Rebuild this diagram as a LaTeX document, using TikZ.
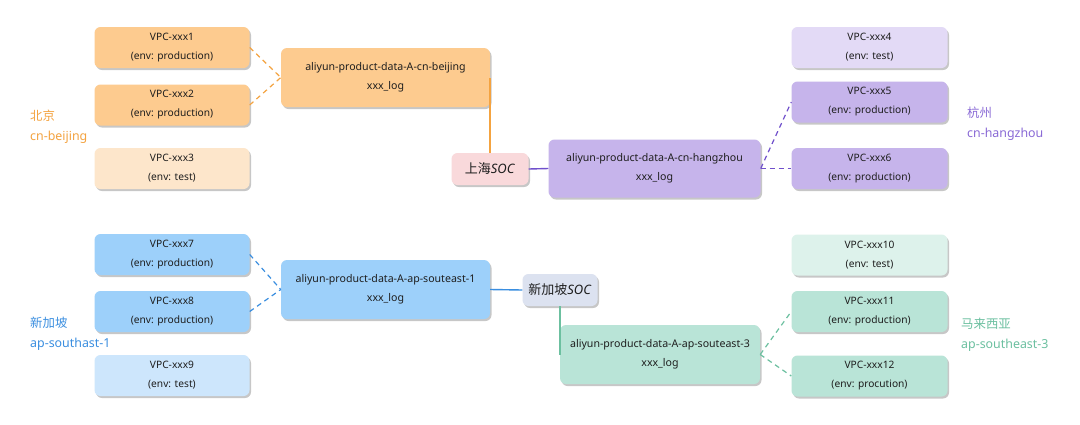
\documentclass[tikz,border=0pt]{standalone}
\usepackage{fontspec}
\setmainfont{Noto Sans}
\newfontfamily\cjk{Noto Sans CJK SC}
\usetikzlibrary{shadows}
\definecolor{orM}{HTML}{FDCB8F}
\definecolor{orL}{HTML}{FDE6CB}
\definecolor{orD}{HTML}{F4A340}
\definecolor{puM}{HTML}{C6B4EB}
\definecolor{puL}{HTML}{E3DAF6}
\definecolor{puD}{HTML}{7050CC}
\definecolor{puT}{HTML}{8A6AD6}
\definecolor{blM}{HTML}{9DD0FA}
\definecolor{blL}{HTML}{CDE6FC}
\definecolor{blD}{HTML}{3A8EE0}
\definecolor{grM}{HTML}{B9E4D7}
\definecolor{grL}{HTML}{DDF2EB}
\definecolor{grD}{HTML}{6CC0A0}
\definecolor{pkS}{HTML}{F9D9DB}
\definecolor{bgS}{HTML}{DCE2F0}
\definecolor{txt}{HTML}{1E1E1E}
\tikzset{
  box/.style={rounded corners=6pt, draw=none, align=center, text=txt,
    font=\fontsize{10.2}{19}\selectfont, inner sep=0pt,
    drop shadow={shadow xshift=1.5pt, shadow yshift=-2pt, opacity=0.22, fill=black}},
  vpc/.style={box, minimum width=155pt, minimum height=41pt},
  mainbox/.style={box, font=\fontsize{10.6}{19}\selectfont, minimum width=209pt, minimum height=59pt},
  soc/.style={box, font=\fontsize{13}{15}\selectfont, minimum height=32pt},
  dconn/.style={line width=1.2pt, dash pattern=on 5pt off 4pt},
  sconn/.style={line width=1.4pt},
  region/.style={align=left, anchor=west, font=\fontsize{12.4}{20}\selectfont, inner sep=0pt}
}
\begin{document}
\begin{tikzpicture}[x=1pt,y=-1pt]
\useasboundingbox[fill=white] (0,0) rectangle (1080,424);
% Beijing
\node[vpc, fill=orM] (v1) at (172,47.5) {VPC-xxx1\\(env: production)};
\node[vpc, fill=orM] (v2) at (172,105) {VPC-xxx2\\(env: production)};
\node[vpc, fill=orL] (v3) at (172,168.5) {VPC-xxx3\\(env: test)};
\node[mainbox, fill=orM] (bj) at (385.5,77.5) {aliyun-product-data-A-cn-beijing\\xxx\_log};
\node[region, text=orD] (lbj) at (30,127) {{\cjk 北京}\\cn-beijing};
% Shanghai SOC
\node[soc, fill=pkS, minimum width=77pt] (sh) at (490,169) {{\cjk 上海}\textit{SOC}};
% Hangzhou
\node[mainbox, fill=puM, minimum width=212pt, minimum height=58pt] (hz) at (654.5,168.5) {aliyun-product-data-A-cn-hangzhou\\xxx\_log};
\node[vpc, fill=puL, minimum width=156pt] (v4) at (869.5,47.5) {VPC-xxx4\\(env: test)};
\node[vpc, fill=puM, minimum width=156pt] (v5) at (869.5,102) {VPC-xxx5\\(env: production)};
\node[vpc, fill=puM, minimum width=156pt] (v6) at (869.5,168.5) {VPC-xxx6\\(env: production)};
\node[region, text=puT] (lhz) at (967,123.5) {{\cjk 杭州}\\cn-hangzhou};
% Singapore
\node[vpc, fill=blM] (v7) at (172,254.5) {VPC-xxx7\\(env: production)};
\node[vpc, fill=blM] (v8) at (172,311.5) {VPC-xxx8\\(env: production)};
\node[vpc, fill=blL] (v9) at (172,375.5) {VPC-xxx9\\(env: test)};
\node[mainbox, fill=blM] (se1) at (385.5,289.5) {aliyun-product-data-A-ap-souteast-1\\xxx\_log};
\node[region, text=blD] (lsg) at (30,334) {{\cjk 新加坡}\\ap-southast-1};
% Singapore SOC
\node[soc, fill=bgS, minimum width=75pt] (sg) at (560,290) {{\cjk 新加坡}\textit{SOC}};
% Malaysia
\node[mainbox, fill=grM, minimum width=200pt] (se3) at (660,354.5) {aliyun-product-data-A-ap-souteast-3\\xxx\_log};
\node[vpc, fill=grL, minimum width=156pt] (v10) at (869.5,255) {VPC-xxx10\\(env: test)};
\node[vpc, fill=grM, minimum width=156pt] (v11) at (869.5,311.5) {VPC-xxx11\\(env: production)};
\node[vpc, fill=grM, minimum width=156pt] (v12) at (869.5,376) {VPC-xxx12\\(env: procution)};
\node[region, text=grD] (lmy) at (961,334.5) {{\cjk 马来西亚}\\ap-southeast-3};
% connectors
\draw[dconn, orD] (v1.east) -- (bj.west);
\draw[dconn, orD] (v2.east) -- (bj.west);
\draw[sconn, orD] (sh.north) -- (sh.north |- bj.east);
\draw[sconn, puD] (sh.east) -- (hz.west);
\draw[dconn, puD] (hz.east) -- (v5.west);
\draw[dconn, puD] (hz.east) -- (v6.west);
\draw[dconn, blD] (v7.east) -- (se1.west);
\draw[dconn, blD] (v8.east) -- (se1.west);
\draw[sconn, blD] (se1.east) -- (sg.west);
\draw[sconn, grD] (sg.south -| se3.west) -- (se3.west);
\draw[dconn, grD] (se3.east) -- (v11.west);
\draw[dconn, grD] (se3.east) -- (v12.west);
\end{tikzpicture}
\end{document}
